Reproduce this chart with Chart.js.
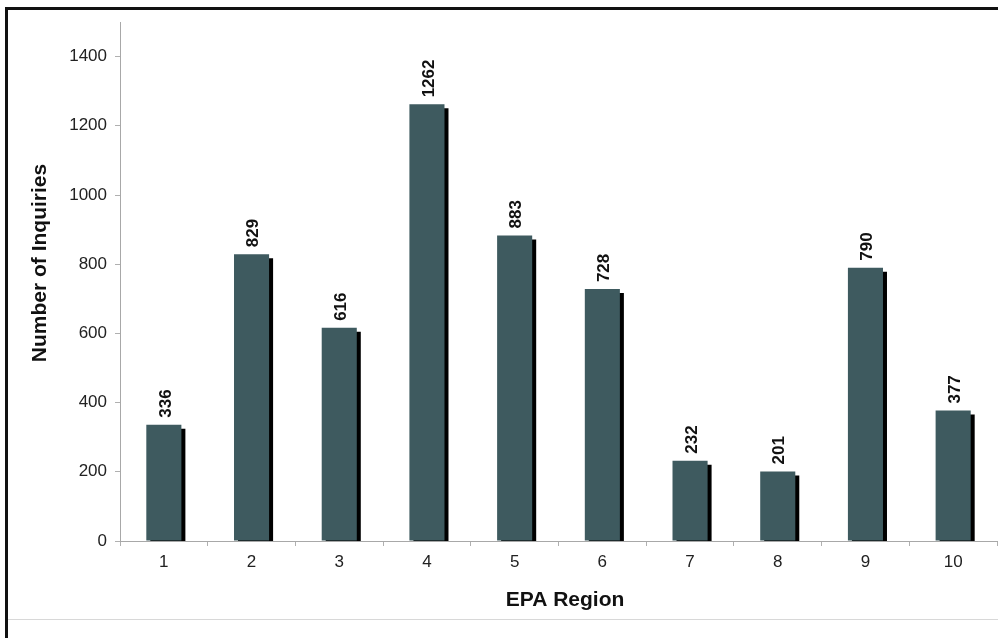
<!DOCTYPE html>
<html>
<head>
<meta charset="utf-8">
<script src="https://cdn.jsdelivr.net/npm/chart.js@4/dist/chart.umd.min.js"></script>
<style>
  html, body { margin: 0; padding: 0; background: #fff; }
  #wrap { position: relative; width: 998px; height: 638px; }
</style>
</head>
<body>
<div id="wrap"><canvas id="c" width="998" height="638"></canvas></div>
<script>
// Inquiries received per EPA region
const regions = ['1', '2', '3', '4', '5', '6', '7', '8', '9', '10'];
const inquiries = [336, 829, 616, 1262, 883, 728, 232, 201, 790, 377];
const yTickStep = 200;
const yTickTop = 1400;

const FONT = '"Liberation Sans", Arial, Helvetica, sans-serif';
const BAR_COLOR = '#3e5a5f';

// Frame, bottom rule and axis titles
const framePlugin = {
  id: 'frame',
  beforeDraw(chart) {
    const ctx = chart.ctx;
    ctx.save();
    ctx.fillStyle = '#fff';
    ctx.fillRect(0, 0, chart.width, chart.height);
    ctx.fillStyle = '#111';
    ctx.fillRect(5, 7, 3, chart.height - 7);
    ctx.fillRect(5, 7, chart.width - 5, 3);
    ctx.fillStyle = '#d8d8d8';
    ctx.fillRect(8, 619, chart.width - 8, 1);
    ctx.restore();
  },
  afterDraw(chart) {
    const ctx = chart.ctx;
    ctx.save();
    ctx.fillStyle = '#111';
    ctx.font = 'bold 21px ' + FONT;
    ctx.textAlign = 'center';
    ctx.textBaseline = 'middle';
    ctx.fillText('EPA Region', 565, 600);
    ctx.translate(40, 263);
    ctx.rotate(-Math.PI / 2);
    ctx.fillText('Number of Inquiries', 0, 0);
    ctx.restore();
  }
};

// Offset drop shadow on the bars and rotated value labels above them
const barDecor = {
  id: 'barDecor',
  beforeDatasetsDraw(chart) {
    const ctx = chart.ctx;
    ctx.save();
    ctx.shadowColor = '#000';
    ctx.shadowOffsetX = 4;
    ctx.shadowOffsetY = 4;
    ctx.shadowBlur = 0;
  },
  afterDatasetsDraw(chart) {
    const ctx = chart.ctx;
    ctx.restore();
    const meta = chart.getDatasetMeta(0);
    const data = chart.data.datasets[0].data;
    ctx.save();
    ctx.fillStyle = '#111';
    ctx.font = 'bold 17px ' + FONT;
    ctx.textAlign = 'left';
    ctx.textBaseline = 'middle';
    meta.data.forEach((bar, i) => {
      ctx.save();
      ctx.translate(bar.x + 2, bar.y - 7);
      ctx.rotate(-Math.PI / 2);
      ctx.fillText(String(data[i]), 0, 0);
      ctx.restore();
    });
    ctx.restore();
  }
};

new Chart(document.getElementById('c'), {
  type: 'bar',
  data: {
    labels: regions,
    datasets: [{
      data: inquiries,
      backgroundColor: BAR_COLOR,
      borderWidth: 0,
      barPercentage: 0.4,
      categoryPercentage: 1.0
    }]
  },
  options: {
    responsive: false,
    animation: false,
    devicePixelRatio: 1,
    layout: { padding: { left: 0, right: 1, top: 22, bottom: 0 } },
    plugins: {
      legend: { display: false },
      tooltip: { enabled: false }
    },
    scales: {
      x: {
        afterFit(scale) { scale.height = 97; },
        grid: {
          offset: true,
          drawOnChartArea: false,
          drawTicks: true,
          tickLength: 5,
          color: '#b0b0b0'
        },
        border: { display: true, color: '#a8a8a8', width: 1 },
        ticks: {
          padding: 6,
          color: '#222',
          font: { family: FONT, size: 17 }
        }
      },
      y: {
        min: 0,
        max: 1500,
        afterFit(scale) { scale.width = 120; },
        afterBuildTicks(scale) {
          scale.ticks = scale.ticks.filter(t => t.value % yTickStep === 0 && t.value <= yTickTop);
        },
        grid: {
          drawOnChartArea: false,
          drawTicks: true,
          tickLength: 5,
          color: '#b0b0b0'
        },
        border: { display: true, color: '#a8a8a8', width: 1 },
        ticks: {
          stepSize: yTickStep,
          padding: 8,
          color: '#222',
          font: { family: FONT, size: 17 },
          callback: (v) => String(v)
        }
      }
    }
  },
  plugins: [framePlugin, barDecor]
});
</script>
</body>
</html>
